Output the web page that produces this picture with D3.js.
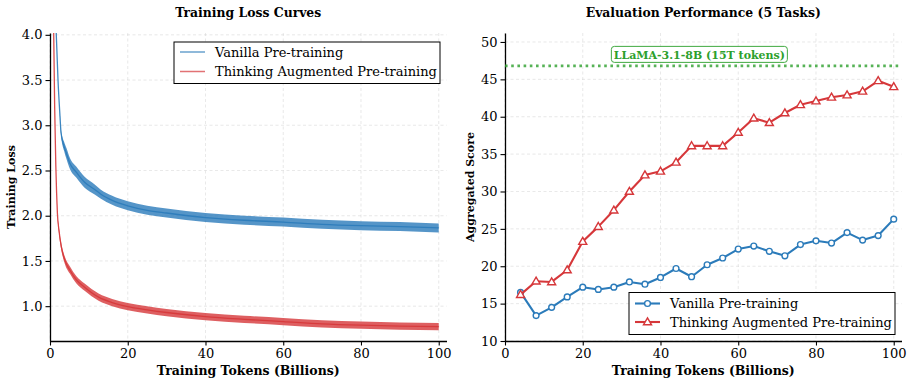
<!DOCTYPE html>
<html>
<head>
<meta charset="utf-8">
<script src="https://cdn.jsdelivr.net/npm/d3@7"></script>
<style>
  body { margin: 0; background: #fff; }
  svg { display: block; font-family: "DejaVu Serif", serif; }
</style>
</head>
<body>
<svg id="chart" width="913" height="385"></svg>
<script>
// ---- left panel: training loss (spread = half-width of the noise band)
const vanillaTokens = [1.6, 2.06, 2.57, 2.83, 3.6, 4.3, 5.1, 6.8, 8.9, 11.5, 13, 16, 20, 25, 30, 40, 50, 60, 70, 80, 90, 100];
const vanillaLoss = [4.02, 3.5, 3.1, 2.92, 2.77, 2.68, 2.58, 2.48, 2.37, 2.29, 2.24, 2.17, 2.11, 2.06, 2.03, 1.98, 1.95, 1.93, 1.905, 1.89, 1.88, 1.865];
const vanillaSpread = [0, 0, 0.01, 0.03, 0.05, 0.06, 0.06, 0.06, 0.06, 0.055, 0.05, 0.05, 0.05, 0.05, 0.05, 0.05, 0.05, 0.05, 0.05, 0.05, 0.05, 0.05];

const thinkingTokens = [0.95, 1.2, 1.5, 1.7, 1.9, 2.3, 2.9, 3.8, 5.1, 6.8, 8.9, 12.5, 16, 20, 25, 30, 40, 50, 60, 70, 80, 90, 100];
const thinkingLoss = [4.02, 3.2, 2.55, 2.25, 2.03, 1.84, 1.66, 1.51, 1.4, 1.29, 1.21, 1.1, 1.04, 0.995, 0.96, 0.93, 0.885, 0.855, 0.83, 0.805, 0.79, 0.78, 0.775];
const thinkingSpread = [0, 0, 0, 0.01, 0.02, 0.03, 0.035, 0.04, 0.04, 0.04, 0.04, 0.04, 0.04, 0.04, 0.04, 0.04, 0.04, 0.04, 0.04, 0.04, 0.04, 0.04, 0.04];

// ---- right panel: evaluation scores
const evalTokens = [4, 8, 12, 16, 20, 24, 28, 32, 36, 40, 44, 48, 52, 56, 60, 64, 68, 72, 76, 80, 84, 88, 92, 96, 100];
const vanillaScore = [16.5, 13.4, 14.5, 15.9, 17.2, 16.9, 17.2, 17.9, 17.6, 18.5, 19.7, 18.6, 20.2, 21.1, 22.3, 22.7, 22.0, 21.4, 22.9, 23.4, 23.1, 24.5, 23.5, 24.1, 26.3];
const thinkingScore = [16.2, 18.0, 17.9, 19.5, 23.3, 25.3, 27.5, 30.0, 32.2, 32.7, 33.9, 36.1, 36.1, 36.1, 37.9, 39.8, 39.2, 40.5, 41.6, 42.1, 42.6, 42.9, 43.4, 44.8, 44.0];
const llamaScore = 46.8;

const xTicks = [0, 20, 40, 60, 80, 100];
const lossTicks = [1.0, 1.5, 2.0, 2.5, 3.0, 3.5, 4.0];
const scoreTicks = [10, 15, 20, 25, 30, 35, 40, 45, 50];

const seriesNames = ["Vanilla Pre-training", "Thinking Augmented Pre-training"];
const blue = "#2b7bba";
const red = "#d6373a";
const green = "#2ca02c";

const svg = d3.select("#chart");
const plotTop = 33, plotBottom = 341;

function frame(g, x, y, yTicks, yFmt, title, yLabel, labelGap) {
  // grid
  g.append("g").selectAll("line").data(xTicks).join("line")
    .attr("x1", d => x(d)).attr("x2", d => x(d))
    .attr("y1", plotTop).attr("y2", plotBottom)
    .attr("stroke", "#d0d0d0").attr("stroke-width", 0.8)
    .attr("stroke-dasharray", "3,2.5").attr("opacity", 0.6);
  g.append("g").selectAll("line").data(yTicks).join("line")
    .attr("x1", x.range()[0]).attr("x2", x.range()[1])
    .attr("y1", d => y(d)).attr("y2", d => y(d))
    .attr("stroke", "#d0d0d0").attr("stroke-width", 0.8)
    .attr("stroke-dasharray", "3,2.5").attr("opacity", 0.6);

  const xa = g.append("g").attr("transform", `translate(0,${plotBottom})`)
    .call(d3.axisBottom(x).tickValues(xTicks).tickSize(4.5).tickPadding(3.5).tickSizeOuter(0));
  const ya = g.append("g").attr("transform", `translate(${x.range()[0]},0)`)
    .call(d3.axisLeft(y).tickValues(yTicks).tickFormat(yFmt).tickSize(4.5).tickPadding(3).tickSizeOuter(0));
  [xa, ya].forEach(a => {
    a.select(".domain").attr("stroke", "#000").attr("stroke-width", 1.3);
    a.selectAll(".tick line").attr("stroke", "#000").attr("stroke-width", 1.1);
    a.selectAll(".tick text").attr("font-family", "DejaVu Serif").attr("font-size", 13).attr("fill", "#000");
  });

  const cx = (x.range()[0] + x.range()[1]) / 2;
  g.append("text").attr("x", cx).attr("y", 17).attr("text-anchor", "middle")
    .attr("font-size", 12.4).attr("font-weight", "bold").text(title);
  g.append("text").attr("x", cx).attr("y", 375).attr("text-anchor", "middle")
    .attr("font-size", 12.5).attr("font-weight", "bold").text("Training Tokens (Billions)");
  g.append("text")
    .attr("transform", `translate(${x.range()[0] - labelGap},${(plotTop + plotBottom) / 2}) rotate(-90)`)
    .attr("text-anchor", "middle").attr("font-size", 11).attr("font-weight", "bold").text(yLabel);
}

// ================= left panel =================
const xL = d3.scaleLinear().domain([0, 102]).range([50, 446.5]);
const yL = d3.scaleLinear().domain([0.615, 4.02]).range([plotBottom, plotTop]);
const left = svg.append("g");
left.append("clipPath").attr("id", "clipL").append("rect")
  .attr("x", 50).attr("y", plotTop).attr("width", 396.5).attr("height", plotBottom - plotTop);
frame(left, xL, yL, lossTicks, d3.format(".1f"), "Training Loss Curves", "Training Loss", 35);

const lossSeries = [
  { color: blue, rows: vanillaTokens.map((t, i) => ({ t, v: vanillaLoss[i], s: vanillaSpread[i] })) },
  { color: red, rows: thinkingTokens.map((t, i) => ({ t, v: thinkingLoss[i], s: thinkingSpread[i] })) }
];
const band = d3.area().curve(d3.curveMonotoneX)
  .x(d => xL(d.t)).y0(d => yL(d.v - d.s)).y1(d => yL(d.v + d.s));
const lossLine = d3.line().curve(d3.curveMonotoneX).x(d => xL(d.t)).y(d => yL(d.v));
const plotL = left.append("g").attr("clip-path", "url(#clipL)");
lossSeries.forEach(s => {
  plotL.append("path").attr("d", band(s.rows)).attr("fill", s.color).attr("opacity", 0.8);
  plotL.append("path").attr("d", lossLine(s.rows)).attr("fill", "none")
    .attr("stroke", s.color).attr("stroke-width", 1.3).attr("opacity", 0.9);
});

const legL = left.append("g").attr("transform", "translate(174,42)");
legL.append("rect").attr("width", 266).attr("height", 41.5)
  .attr("fill", "#fff").attr("stroke", "#000").attr("stroke-width", 1);
[blue, red].forEach((c, i) => {
  const ry = 10 + i * 19.5;
  legL.append("line").attr("x1", 6).attr("x2", 31).attr("y1", ry).attr("y2", ry)
    .attr("stroke", c).attr("stroke-width", 1.5).attr("opacity", 0.7);
  legL.append("text").attr("x", 41).attr("y", ry + 4.5).attr("font-size", 13).text(seriesNames[i]);
});

// ================= right panel =================
const xR = d3.scaleLinear().domain([0, 102]).range([505, 901.5]);
const yR = d3.scaleLinear().domain([10, 51.2]).range([plotBottom, plotTop]);
const right = svg.append("g");
frame(right, xR, yR, scoreTicks, d3.format("d"), "Evaluation Performance (5 Tasks)", "Aggregated Score", 31);

right.append("line").attr("x1", xR(0)).attr("x2", xR(102))
  .attr("y1", yR(llamaScore)).attr("y2", yR(llamaScore))
  .attr("stroke", green).attr("stroke-width", 2.6).attr("stroke-dasharray", "2.6,3.6").attr("opacity", 0.8);

const annX = xR(50), annY = yR(48.3);
right.append("rect").attr("x", annX - 88).attr("y", annY - 8.3).attr("width", 176).attr("height", 16)
  .attr("rx", 3).attr("fill", "#fff").attr("stroke", green).attr("stroke-width", 1).attr("opacity", 0.9);
right.append("text").attr("x", annX).attr("y", annY + 4).attr("text-anchor", "middle")
  .attr("font-size", 11).attr("font-weight", "bold").attr("fill", green).text("LLaMA-3.1-8B (15T tokens)");

const scoreLine = d3.line().x(d => xR(d.t)).y(d => yR(d.v));
const tri = d3.symbol().type(d3.symbolTriangle).size(28);
const evalSeries = [
  { color: blue, marker: "circle", rows: evalTokens.map((t, i) => ({ t, v: vanillaScore[i] })) },
  { color: red, marker: "triangle", rows: evalTokens.map((t, i) => ({ t, v: thinkingScore[i] })) }
];
function drawMarker(sel, kind, color) {
  if (kind === "circle") {
    sel.append("circle").attr("r", 2.9);
  } else {
    sel.append("path").attr("d", tri).attr("transform", "translate(0,0.5)");
  }
  sel.selectAll("circle,path").attr("fill", "#fff").attr("stroke", color).attr("stroke-width", 1.4);
}
evalSeries.forEach(s => {
  right.append("path").attr("d", scoreLine(s.rows)).attr("fill", "none")
    .attr("stroke", s.color).attr("stroke-width", 2.1).attr("stroke-linejoin", "round");
  right.append("g").selectAll("g").data(s.rows).join("g")
    .attr("transform", d => `translate(${xR(d.t)},${yR(d.v)})`)
    .each(function () { drawMarker(d3.select(this), s.marker, s.color); });
});

const legR = right.append("g").attr("transform", "translate(629,292.5)");
legR.append("rect").attr("width", 266).attr("height", 42)
  .attr("fill", "#fff").attr("stroke", "#000").attr("stroke-width", 1);
evalSeries.forEach((s, i) => {
  const ry = 11 + i * 18.5;
  legR.append("line").attr("x1", 6).attr("x2", 31).attr("y1", ry).attr("y2", ry)
    .attr("stroke", s.color).attr("stroke-width", 2.1);
  drawMarker(legR.append("g").attr("transform", `translate(18.5,${ry})`), s.marker, s.color);
  legR.append("text").attr("x", 41).attr("y", ry + 4.5).attr("font-size", 13).text(seriesNames[i]);
});
</script>
</body>
</html>
